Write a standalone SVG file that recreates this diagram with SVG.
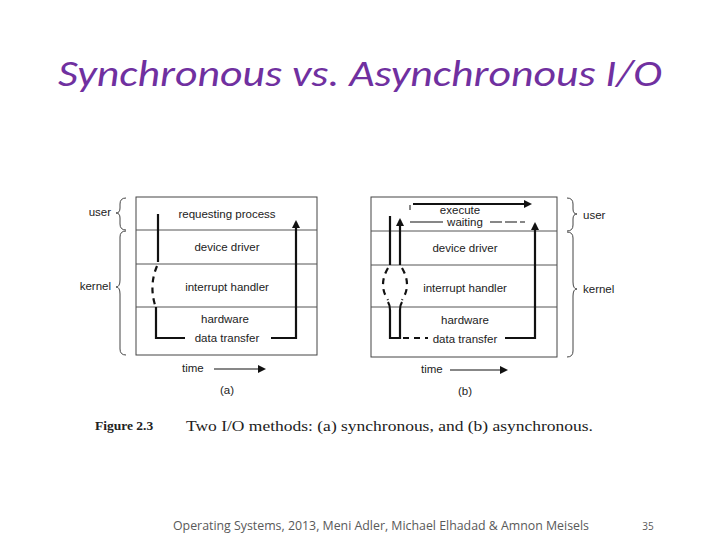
<svg xmlns="http://www.w3.org/2000/svg" width="720" height="540" viewBox="0 0 720 540">
<style>
.t{font-family:"Liberation Sans",Arial,sans-serif;font-size:11.5px;fill:#222}
.box{fill:none;stroke:#444;stroke-width:1}
.div{stroke:#555;stroke-width:1}
.th{stroke:#111;stroke-width:2.2;fill:none}
.dsh{stroke:#111;stroke-width:2.2;fill:none;stroke-dasharray:6 5}
.br{fill:none;stroke:#444;stroke-width:1}
</style>
<defs><marker id="ah" markerWidth="8" markerHeight="8" refX="6" refY="4" orient="auto" markerUnits="userSpaceOnUse"><path d="M0,0 L8,4 L0,8 z" fill="#111"/></marker></defs>
<rect width="720" height="540" fill="#fff"/>
<text x="360" y="86" text-anchor="middle" font-family="Calibri,'Open Sans',sans-serif" font-style="italic" font-size="36" fill="#7030A0" textLength="604" lengthAdjust="spacingAndGlyphs">Synchronous vs. Asynchronous I/O</text>
<g id="diagA">
<rect class="box" x="136" y="197" width="181" height="158"/>
<line class="div" x1="136" y1="230" x2="317" y2="230"/>
<line class="div" x1="136" y1="264" x2="317" y2="264"/>
<line class="div" x1="136" y1="307" x2="317" y2="307"/>
<text class="t" x="227" y="218" text-anchor="middle">requesting process</text>
<text class="t" x="227" y="251" text-anchor="middle">device driver</text>
<text class="t" x="227" y="291" text-anchor="middle">interrupt handler</text>
<text class="t" x="225" y="323" text-anchor="middle">hardware</text>
<text class="t" x="227" y="342" text-anchor="middle">data transfer</text>
<text class="t" x="111" y="216" text-anchor="end">user</text>
<text class="t" x="111" y="290" text-anchor="end">kernel</text>
<path class="br" d="M126,198 Q120,198 120,204 L120,208 Q120,213 116,213 Q120,213 120,218 L120,224 Q120,230 126,230"/>
<path class="br" d="M126,231 Q120,231 120,237 L120,280 Q120,287 116,287 Q120,287 120,294 L120,349 Q120,355 126,355"/>
<text class="t" x="182" y="372">time</text>
<line x1="214" y1="369" x2="264" y2="369" stroke="#111" stroke-width="1.2" marker-end="url(#ah)"/>
<text class="t" x="227" y="394" text-anchor="middle">(a)</text>
</g>
<g id="diagB">
<rect class="box" x="371" y="197" width="186" height="160"/>
<line class="div" x1="371" y1="231" x2="557" y2="231"/>
<line class="div" x1="371" y1="265" x2="557" y2="265"/>
<line class="div" x1="371" y1="307" x2="557" y2="307"/>
<text class="t" x="460" y="214" text-anchor="middle">execute</text>
<text class="t" x="465" y="226" text-anchor="middle">waiting</text>
<text class="t" x="465" y="252" text-anchor="middle">device driver</text>
<text class="t" x="465" y="292" text-anchor="middle">interrupt handler</text>
<text class="t" x="465" y="324" text-anchor="middle">hardware</text>
<text class="t" x="465" y="343" text-anchor="middle">data transfer</text>
<text class="t" x="583" y="219">user</text>
<text class="t" x="583" y="293">kernel</text>
<path class="br" d="M567,198 Q573,198 573,204 L573,209 Q573,214 577,214 Q573,214 573,219 L573,225 Q573,231 567,231"/>
<path class="br" d="M567,232 Q573,232 573,238 L573,282 Q573,289 577,289 Q573,289 573,296 L573,351 Q573,357 567,357"/>
<text class="t" x="421" y="373">time</text>
<line x1="450" y1="370" x2="506" y2="370" stroke="#111" stroke-width="1.2" marker-end="url(#ah)"/>
<text class="t" x="465" y="395" text-anchor="middle">(b)</text>
</g>
<g id="connectors">
<line class="th" x1="158" y1="214" x2="158" y2="262"/>
<path class="dsh" d="M157,266 Q149,285 155,305"/>
<path class="th" d="M156,307 L156,338 L185,338"/>
<path class="th" d="M271,338 L296,338 L296,222" marker-end="url(#ah)"/>
<line class="th" x1="413" y1="204" x2="530" y2="204" marker-end="url(#ah)"/>
<line x1="410" y1="205" x2="410" y2="210" stroke="#111" stroke-width="1"/>
<line x1="410" y1="222" x2="443" y2="222" stroke="#111" stroke-width="1.2"/>
<line x1="490" y1="222" x2="525" y2="222" stroke="#111" stroke-width="1.2" stroke-dasharray="12 3"/>
<line class="th" x1="390" y1="265" x2="390" y2="216"/>
<line class="th" x1="400" y1="265" x2="400" y2="220" marker-end="url(#ah)"/>
<path class="dsh" d="M388,268 Q378,285 388,300 M402,268 Q412,285 402,300"/>
<path class="th" d="M388,302 Q390,305 390,310 L390,338 L400,338 L400,310 Q400,305 402,302"/>
<path class="dsh" d="M403,338 L428,338"/>
<path class="th" d="M505,338 L535,338 L535,224" marker-end="url(#ah)"/>
</g>
<text x="95" y="430" font-family="'Liberation Serif',serif" font-size="13.5" font-weight="bold" fill="#222">Figure 2.3</text>
<text x="186" y="431" font-family="'Liberation Serif',serif" font-size="15" fill="#222" textLength="407" lengthAdjust="spacingAndGlyphs">Two I/O methods: (a) synchronous, and (b) asynchronous.</text>
<text x="381" y="530" text-anchor="middle" font-family="'Open Sans',sans-serif" font-size="12" fill="#595959" textLength="416" lengthAdjust="spacingAndGlyphs">Operating Systems, 2013, Meni Adler, Michael Elhadad &amp; Amnon Meisels</text>
<text x="648" y="530" text-anchor="middle" font-family="'Open Sans',sans-serif" font-size="10" fill="#595959">35</text>
</svg>
